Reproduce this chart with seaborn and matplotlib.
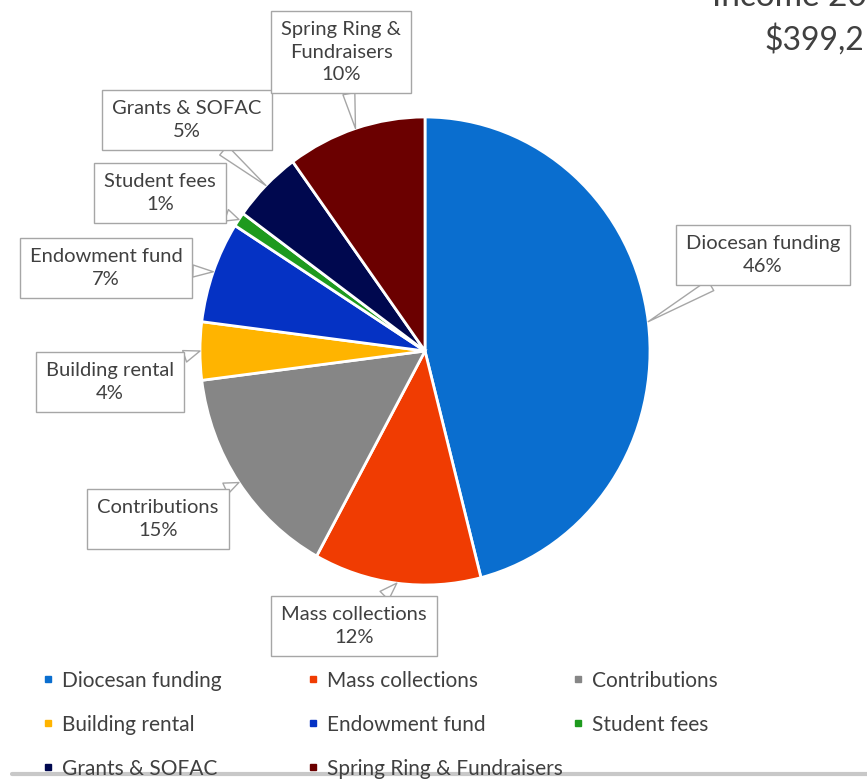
import numpy as np
import seaborn as sns
import matplotlib.pyplot as plt
from matplotlib.lines import Line2D

## data
categories = ["Diocesan funding", "Mass collections", "Contributions", "Building rental",
              "Endowment fund", "Student fees", "Grants & SOFAC", "Spring Ring & Fundraisers"]
shares = [46, 12, 15, 4, 7, 1, 5, 10]
callout_text = ["Diocesan funding\n46%", "Mass collections\n12%", "Contributions\n15%",
                "Building rental\n4%", "Endowment fund\n7%", "Student fees\n1%",
                "Grants & SOFAC\n5%", "Spring Ring &\nFundraisers\n10%"]
colors = ["#0a6ecf", "#f03c02", "#868686", "#ffb400", "#0532c4", "#1e9a1e", "#00084f", "#6b0000"]

## style
sns.set_style("white")
plt.rcParams['font.family'] = ['Lato', 'DejaVu Sans']
W, H = 867, 784
fig = plt.figure(figsize=(W / 100, H / 100), dpi=100)

# pie axes (slightly taller than wide, like the screenshot)
cx, cy, rx, ry = 425, 351, 225, 234
ax = fig.add_axes([(cx - rx) / W, (H - cy - ry) / H, 2 * rx / W, 2 * ry / H])
wedges, _ = ax.pie(shares, colors=sns.color_palette(colors), startangle=90, counterclock=False,
                   radius=1, wedgeprops=dict(edgecolor="white", linewidth=2))
ax.set_aspect("auto")
ax.set_xlim(-1, 1)
ax.set_ylim(-1, 1)
ax.axis("off")

## callouts (box centres in screenshot pixels)
box_pos = [(763, 255), (354, 626), (158, 519), (110, 382),
           (106, 268), (160, 193), (187, 120), (341, 52)]
for w, txt, (bx, by) in zip(wedges, callout_text, box_pos):
    mid = np.deg2rad((w.theta1 + w.theta2) / 2)
    ax.annotate(txt, xy=(np.cos(mid), np.sin(mid)), xycoords="data",
                xytext=(bx, H - by), textcoords="figure pixels",
                ha="center", va="center", fontsize=14.5, color="#404040", linespacing=1.4,
                bbox=dict(boxstyle="square,pad=0.5", fc="white", ec="#a6a6a6", lw=1),
                arrowprops=dict(arrowstyle="wedge,tail_width=0.6,shrink_factor=0.5",
                                fc="white", ec="#a6a6a6", lw=1, shrinkA=0, shrinkB=0))

## legend: three fixed columns, entries run row by row
for col, x0 in enumerate([22, 287, 552]):
    idx = list(range(col, len(categories), 3))
    handles = [Line2D([0], [0], marker="s", ls="", color=colors[i], markersize=5) for i in idx]
    fig.legend(handles, [categories[i] for i in idx], loc="upper left",
               bbox_to_anchor=(x0 / W, 1 - 652 / H), frameon=False, fontsize=15,
               labelcolor="#404040", handletextpad=0.3, labelspacing=1.15, handlelength=0.7)

## title at top right (cut off by the screenshot edge in the original)
fig.text(712 / W, 1 - 6 / H, "Income 20", fontsize=24, color="#404040", va="baseline")
fig.text(1 - 3 / W, 1 - 50 / H, "$399,2", fontsize=23, color="#404040", va="baseline", ha="right")

## bottom rule of the screenshot
fig.add_artist(Line2D([12 / W, 1], [1 - 774 / H] * 2, color="#c8c8c8", lw=3))

plt.savefig("out.png", dpi=100)
